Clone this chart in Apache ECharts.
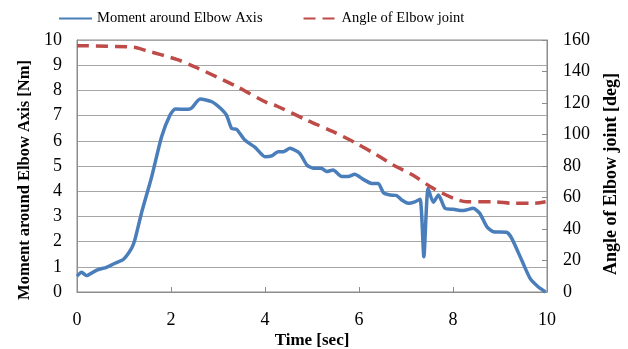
<!DOCTYPE html>
<html>
<head>
<meta charset="utf-8">
<script src="https://cdn.jsdelivr.net/npm/echarts@6/dist/echarts.min.js"></script>
<style>html,body{margin:0;padding:0;background:#fff}#c{width:628px;height:349px}</style>
</head>
<body>
<div id="c"></div>
<script>
var timeMoment = [0,0.1,0.2,0.42,0.63,0.81,0.99,1.16,1.23,1.38,1.59,1.8,1.98,2.09,2.37,2.44,2.62,2.87,3.04,3.18,3.29,3.4,3.57,3.79,4.0,4.14,4.28,4.39,4.53,4.74,4.89,5.03,5.2,5.31,5.45,5.63,5.77,5.91,6.09,6.27,6.41,6.52,6.66,6.8,6.91,7.05,7.19,7.3,7.38,7.47,7.58,7.69,7.83,8.01,8.22,8.43,8.57,8.72,8.86,9.14,9.25,9.46,9.64,9.81,9.97];
var moment = [0.63,0.78,0.65,0.87,0.98,1.14,1.3,1.73,2.06,3.19,4.58,6.16,7.02,7.26,7.25,7.3,7.66,7.55,7.31,7.02,6.49,6.45,6.03,5.74,5.37,5.4,5.57,5.57,5.7,5.5,5.04,4.91,4.91,4.78,4.84,4.58,4.58,4.67,4.47,4.31,4.31,3.94,3.85,3.83,3.65,3.52,3.58,3.68,1.4,4.11,3.56,3.85,3.32,3.28,3.23,3.32,3.12,2.59,2.39,2.37,2.13,1.27,0.54,0.21,0.0];
var timeAngle = [0,1.2,1.48,2.12,2.55,3.4,4.04,4.25,4.9,5.45,5.88,6.38,6.73,7.16,7.58,8.01,8.29,8.86,9.29,9.71,9.97];
var angle = [156.4,155.4,153.2,147.7,142.4,130.4,120.2,118.1,109,101.8,95.4,87,80.6,73.9,65.8,59.5,57.3,57.3,56.3,56.3,57.3];
var xTicks = [0,2,4,6,8,10];

var font = 'Liberation Serif';
var chart = echarts.init(document.getElementById('c'));
chart.setOption({
  animation: false,
  textStyle: {fontFamily: font},
  legend: {
    left: 53, top: 6, itemWidth: 33, itemHeight: 10, itemGap: 40,
    itemStyle: {opacity: 0},
    textStyle: {fontFamily: font, fontSize: 14.5, color: '#000'},
    data: ['Moment around Elbow Axis', 'Angle of Elbow joint']
  },
  grid: {left: 77, right: 81, top: 40, bottom: 57, show: true, borderColor: '#8c8c8c', borderWidth: 1,
    containLabel: false, outerBoundsMode: 'none'},
  xAxis: {
    type: 'value', min: 0, max: 10, interval: 2,
    name: 'Time [sec]', nameLocation: 'middle', nameGap: 40, nameMoveOverlap: false,
    nameTextStyle: {fontFamily: font, fontSize: 17, fontWeight: 'bold', color: '#000'},
    axisLine: {lineStyle: {color: '#8c8c8c'}},
    axisTick: {inside: true, length: 5, lineStyle: {color: '#8c8c8c'}},
    axisLabel: {fontFamily: font, fontSize: 18, color: '#000', margin: 19,
      formatter: function (v) { return xTicks.indexOf(v) >= 0 ? String(v) : ''; }},
    splitLine: {show: false}
  },
  yAxis: [{
    type: 'value', min: 0, max: 10, interval: 1,
    name: 'Moment around Elbow Axis [Nm]', nameLocation: 'middle', nameGap: 44, nameMoveOverlap: false,
    nameTextStyle: {fontFamily: font, fontSize: 16.5, fontWeight: 'bold', color: '#000', padding: [0, 28, 0, 0]},
    axisLine: {show: true, lineStyle: {color: '#8c8c8c'}},
    axisTick: {show: false},
    axisLabel: {fontFamily: font, fontSize: 18, color: '#000', margin: 15},
    splitLine: {lineStyle: {color: '#a6a6a6', width: 1}}
  }, {
    type: 'value', min: 0, max: 160, interval: 20, position: 'right',
    name: 'Angle of Elbow joint [deg]', nameLocation: 'middle', nameGap: 55, nameRotate: 90, nameMoveOverlap: false,
    nameTextStyle: {fontFamily: font, fontSize: 18, fontWeight: 'bold', color: '#000', padding: [0, 16, 0, 0]},
    axisLine: {show: true, lineStyle: {color: '#8c8c8c'}},
    axisTick: {show: true, inside: true, length: 5, lineStyle: {color: '#8c8c8c'}},
    axisLabel: {fontFamily: font, fontSize: 18, color: '#000', margin: 16},
    splitLine: {show: false}
  }],
  series: [{
    name: 'Moment around Elbow Axis', type: 'line', yAxisIndex: 0,
    data: timeMoment.map(function (t, i) { return [t, moment[i]]; }),
    showSymbol: false, symbol: 'none', smooth: 0.2,
    lineStyle: {color: '#4a7ebb', width: 3.5}, itemStyle: {color: '#4a7ebb'}
  }, {
    name: 'Angle of Elbow joint', type: 'line', yAxisIndex: 1,
    data: timeAngle.map(function (t, i) { return [t, angle[i]]; }),
    showSymbol: false, symbol: 'none', smooth: 0.3,
    lineStyle: {color: '#be4b48', width: 3.5, type: [12, 7]}, itemStyle: {color: '#be4b48'}
  }]
});
</script>
</body>
</html>
